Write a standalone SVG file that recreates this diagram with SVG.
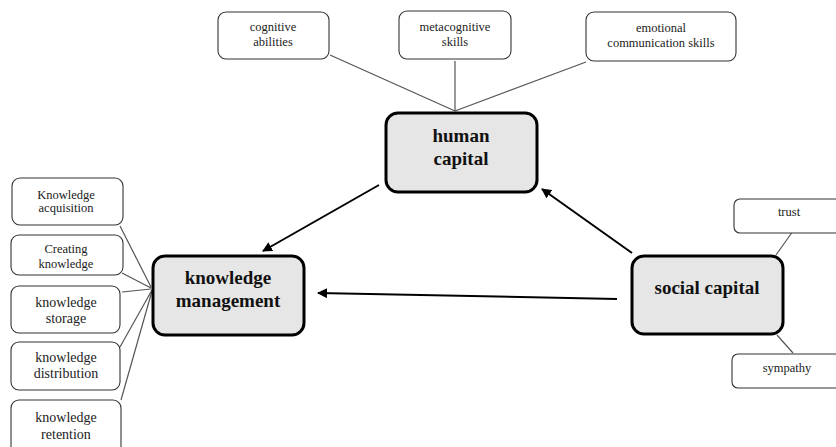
<svg xmlns="http://www.w3.org/2000/svg" width="836" height="447" viewBox="0 0 836 447">
<defs>
<marker id="ah" viewBox="0 0 10 10" refX="9" refY="5" markerWidth="5" markerHeight="5" orient="auto" markerUnits="strokeWidth">
<path d="M0,0 L10,5 L0,10 z" fill="#000"/>
</marker>
<style>
.main{fill:#e6e6e6;stroke:#000;stroke-width:3}
.sub{fill:#fff;stroke:#333;stroke-width:1.1}
.mt{font-family:"Liberation Serif","Times New Roman",serif;font-weight:bold;font-size:19px;fill:#111;text-anchor:middle}
.st{font-family:"Liberation Serif","Times New Roman",serif;font-size:12.5px;fill:#222;text-anchor:middle}
.st14{font-family:"Liberation Serif","Times New Roman",serif;font-size:14px;fill:#222;text-anchor:middle}
.ln{stroke:#555;stroke-width:1.2;fill:none}
.ar{stroke:#000;stroke-width:2;fill:none;marker-end:url(#ah)}
</style>
</defs>
<rect width="836" height="447" fill="#fff"/>
<g id="connectors">
<line class="ln" x1="330" y1="55" x2="455" y2="111"/>
<line class="ln" x1="455" y1="61" x2="455" y2="111"/>
<line class="ln" x1="586" y1="62" x2="455" y2="111"/>
<line class="ln" x1="120" y1="226" x2="151" y2="287"/>
<line class="ln" x1="122" y1="273" x2="151" y2="288"/>
<line class="ln" x1="122" y1="292" x2="151" y2="289"/>
<line class="ln" x1="120" y1="347" x2="152" y2="290"/>
<line class="ln" x1="121" y1="400" x2="152" y2="291"/>
<line class="ln" x1="793" y1="231" x2="776" y2="255"/>
<line class="ln" x1="777" y1="335" x2="793" y2="353"/>
<line class="ar" x1="379" y1="185" x2="263" y2="251"/>
<line class="ar" x1="632" y1="253" x2="542" y2="189"/>
<line class="ar" x1="617" y1="299" x2="318" y2="293"/>
</g>
<g id="human-capital">
<rect class="main" x="386" y="113" width="151" height="79" rx="12"/>
<text class="mt" x="461" y="142">human</text>
<text class="mt" x="461" y="165">capital</text>
</g>
<g id="knowledge-management">
<rect class="main" x="153" y="256" width="151" height="79" rx="12"/>
<text class="mt" x="228" y="284">knowledge</text>
<text class="mt" x="228" y="307">management</text>
</g>
<g id="social-capital">
<rect class="main" x="632" y="256" width="151" height="78" rx="12"/>
<text class="mt" x="707" y="294">social capital</text>
</g>
<g id="cognitive-abilities">
<rect class="sub" x="218" y="12" width="111" height="47" rx="8"/>
<text class="st" x="273" y="31">cognitive</text>
<text class="st" x="273" y="46">abilities</text>
</g>
<g id="metacognitive-skills">
<rect class="sub" x="399" y="11" width="112" height="48" rx="8"/>
<text class="st" x="455" y="31">metacognitive</text>
<text class="st" x="455" y="46">skills</text>
</g>
<g id="emotional-communication-skills">
<rect class="sub" x="586" y="12" width="150" height="49" rx="8"/>
<text class="st" x="661" y="32">emotional</text>
<text class="st" x="661" y="47">communication skills</text>
</g>
<g id="knowledge-acquisition">
<rect class="sub" x="12" y="178" width="111" height="47" rx="8"/>
<text class="st" x="66" y="199">Knowledge</text>
<text class="st" x="66" y="212">acquisition</text>
</g>
<g id="creating-knowledge">
<rect class="sub" x="11" y="235" width="112" height="40" rx="8"/>
<text class="st" x="66" y="253">Creating</text>
<text class="st" x="66" y="268">knowledge</text>
</g>
<g id="knowledge-storage">
<rect class="sub" x="11" y="286" width="109" height="47" rx="8"/>
<text class="st14" x="66" y="307">knowledge</text>
<text class="st14" x="66" y="323">storage</text>
</g>
<g id="knowledge-distribution">
<rect class="sub" x="11" y="342" width="109" height="48" rx="8"/>
<text class="st14" x="66" y="362">knowledge</text>
<text class="st14" x="66" y="378">distribution</text>
</g>
<g id="knowledge-retention">
<rect class="sub" x="11" y="400" width="110" height="60" rx="8"/>
<text class="st14" x="66" y="422">knowledge</text>
<text class="st14" x="66" y="439">retention</text>
</g>
<g id="trust">
<rect class="sub" x="734" y="199" width="115" height="34" rx="6"/>
<text class="st" x="789" y="216">trust</text>
</g>
<g id="sympathy">
<rect class="sub" x="732" y="354" width="117" height="34" rx="6"/>
<text class="st" x="787" y="372">sympathy</text>
</g>
</svg>
